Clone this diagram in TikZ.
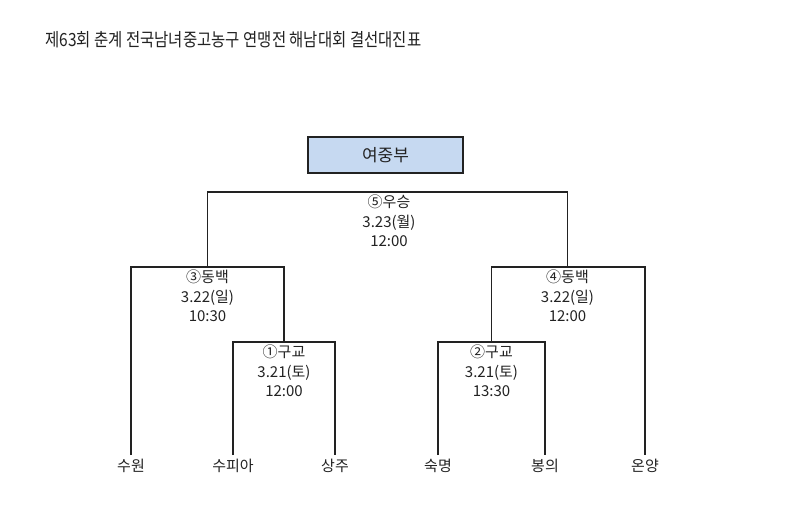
\documentclass[tikz,border=0pt]{standalone}
\usepackage{fontspec}
\setmainfont{Noto Sans CJK KR}
\newfontfamily\ttlfont[FakeStretch=0.85]{Noto Sans CJK KR}
\definecolor{boxblue}{HTML}{C6D9F1}
\definecolor{ink}{HTML}{222222}
\tikzset{
  team/.style={anchor=north, inner sep=3.5pt, font=\fontsize{15}{17}\selectfont, text=ink},
  game/.style={anchor=north, inner sep=3pt, align=center, font=\fontsize{15}{19.5}\selectfont, text=ink},
  wire/.style={draw=ink, line width=1.4pt}
}
\newcommand{\gm}[4]{\node[game] (#1) at (#2,#3) {#4};}

\begin{document}
\begin{tikzpicture}[x=1pt, y=-1pt]
  \useasboundingbox (0,0) rectangle (800,512);
  \node[anchor=west, inner sep=0pt, font=\ttlfont\fontsize{18.2}{22}\selectfont, text=ink] (title) at (45,40)
    {제63회 춘계 전국남녀중고농구 연맹전 해남대회 결선대진표};
  \node[draw=ink, line width=1.2pt, fill=boxblue, minimum width=155pt, minimum height=36pt,
    font=\fontsize{17}{19}\selectfont, text=ink] (div) at (385.5,155) {여중부};
  % teams
  \foreach \n/\x/\t in {t1/131/수원, t2/233/수피아, t3/335/상주, t4/438/숙명, t5/545/봉의, t6/645/온양}
    \node[team] (\n) at (\x,455) {\t};
  % games
  \gm{g1}{284}{342}{①구교\\3.21(토)\\12:00}
  \gm{g2}{491.5}{342}{②구교\\3.21(토)\\13:30}
  \gm{g3}{207.5}{267}{③동백\\3.22(일)\\10:30}
  \gm{g4}{567.5}{267}{④동백\\3.22(일)\\12:00}
  \gm{g5}{389}{192}{⑤우승\\3.23(월)\\12:00}
  % brackets
  \draw[wire] (t2.north) |- (g1.north) -| (t3.north);
  \draw[wire] (t4.north) |- (g2.north) -| (t5.north);
  \draw[wire] (t1.north) |- (g3.north) -| (g1.north);
  \draw[wire] (g2.north) |- (g4.north) -| (t6.north);
  \draw[wire] (g3.north) |- (g5.north) -| (g4.north);
\end{tikzpicture}
\end{document}
